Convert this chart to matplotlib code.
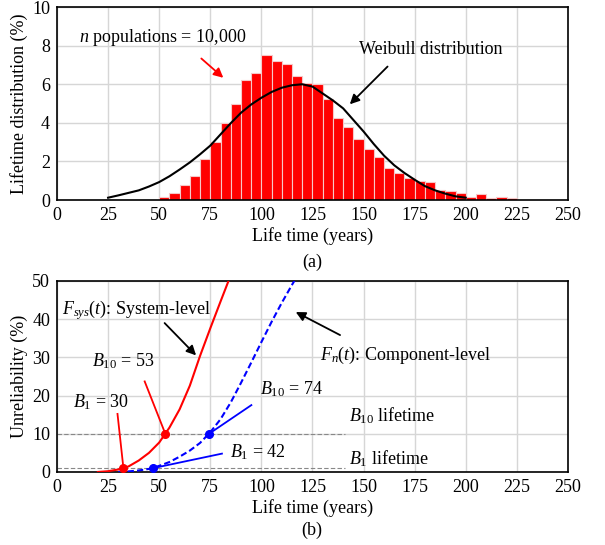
import numpy as np
import matplotlib
matplotlib.use("Agg")
import matplotlib.pyplot as plt

plt.rcParams['font.family'] = ['Liberation Serif', 'DejaVu Serif']
plt.rcParams['mathtext.fontset'] = 'custom'
plt.rcParams['mathtext.rm'] = 'Liberation Serif'
plt.rcParams['mathtext.it'] = 'Liberation Serif:italic'
plt.rcParams['font.size'] = 13

# (a) histogram, 5-year bins starting at 50 years
bin_start = [50, 55, 60, 65, 70, 75, 80, 85, 90, 95, 100, 105, 110, 115, 120,
             125, 130, 135, 140, 145, 150, 155, 160, 165, 170, 175, 180, 185,
             190, 195, 200, 205, 210, 215, 220]
hist_pct = [0.14, 0.38, 0.76, 1.24, 2.14, 3.0, 3.98, 4.98, 6.22, 6.57, 7.53,
            7.19, 7.05, 6.45, 6.04, 5.99, 5.24, 4.26, 3.78, 3.18, 2.62, 2.23,
            1.68, 1.42, 1.16, 0.98, 0.93, 0.50, 0.47, 0.38, 0.16, 0.29, 0.12,
            0.17, 0.10]

# Weibull curve
wb_t = [25, 30, 35, 40, 45, 50, 55, 60, 65, 70, 75, 80, 85, 90, 95, 100, 105,
        110, 115, 120, 125, 130, 135, 140, 145, 150, 155, 160, 165, 170, 175,
        180, 185, 190, 195, 200]
wb_pct = [0.12, 0.24, 0.37, 0.50, 0.70, 0.93, 1.23, 1.58, 1.95, 2.37, 2.82,
          3.40, 3.98, 4.52, 4.95, 5.30, 5.60, 5.82, 5.95, 6.00, 5.88, 5.52,
          5.16, 4.75, 4.15, 3.55, 2.90, 2.30, 1.80, 1.40, 1.05, 0.72, 0.50,
          0.33, 0.19, 0.12]

# (b) unreliability curves
sys_t = [20, 25, 30, 35, 40, 45, 50, 55, 60, 65, 70, 75, 80, 85]
sys_f = [0.0, 0.2, 0.65, 1.45, 3.0, 5.0, 7.7, 11.6, 16.4, 22.6, 30.4, 37.6, 44.6, 51.5]
comp_t = [30, 35, 40, 45, 50, 55, 60, 65, 70, 75, 80, 85, 90, 95, 100, 105, 110, 115, 120]
comp_f = [0.0, 0.15, 0.4, 0.8, 1.6, 2.6, 4.0, 5.6, 7.6, 10.4, 13.8, 18.2, 23.3,
          28.6, 34.0, 39.3, 44.3, 49.0, 53.5]
sys_b = [32.5, 53]
comp_b = [47, 74.4]
b_levels = [1, 10]

xticks = [0, 25, 50, 75, 100, 125, 150, 175, 200, 225, 250]

fig = plt.figure(figsize=(6.05, 5.45), dpi=100)
ax1 = fig.add_axes([0.0942, 0.633, 0.8446, 0.354])
ax2 = fig.add_axes([0.0942, 0.134, 0.8446, 0.3505])

for ax in (ax1, ax2):
    ax.set_axisbelow(True)
    ax.grid(True, color='#d6d6d6', lw=1.0)
    ax.set_xlim(0, 250)
    ax.set_xticks(xticks)
    ax.tick_params(length=0, pad=5, labelsize=13)
    for s in ax.spines.values():
        s.set_linewidth(1.2)
    ax.set_xlabel('Life time (years)', fontsize=13, labelpad=2)

# ---- (a)
ax1.bar(bin_start, hist_pct, width=5, align='edge', color='#ff0000',
        edgecolor='#f5c8c8', linewidth=0.8, zorder=2)
ax1.plot(wb_t, wb_pct, color='black', lw=1.5, zorder=3)
ax1.set_ylim(0, 10)
ax1.set_yticks([0, 2, 4, 6, 8, 10])
ax1.set_ylabel('Lifetime distribution (%)', fontsize=13, labelpad=3)
ax1.text(10.8, 8.4, r'$n$ populations = 10,000', va='center')
ax1.annotate('', xy=(82.4, 6.24), xytext=(69.6, 7.43),
             arrowprops=dict(arrowstyle='-|>', color='red', lw=1.3, mutation_scale=14))
ax1.text(148, 7.8, 'Weibull distribution', va='center')
ax1.annotate('', xy=(142.3, 4.86), xytext=(162.7, 7.02),
             arrowprops=dict(arrowstyle='-|>', color='black', lw=1.3, mutation_scale=14))

# ---- (b)
ax2.set_ylim(0, 50)
ax2.set_yticks([0, 10, 20, 30, 40, 50])
ax2.set_ylabel('Unreliability (%)', fontsize=13, labelpad=3)
for lv in b_levels:
    ax2.plot([0, 141], [lv, lv], color='#888888', lw=0.8, dashes=(4, 2), zorder=2)
ax2.plot(sys_t, sys_f, color='#ff0000', lw=1.5, zorder=3)
ax2.plot(comp_t, comp_f, color='#0000ff', lw=1.5, dashes=(3, 1.5), zorder=3)
ax2.plot(sys_b, b_levels, 'o', color='#ff0000', ms=5.5, zorder=4)
ax2.plot(comp_b, b_levels, 'o', color='#0000ff', ms=5.5, zorder=4)

ax2.plot([29.6, sys_b[0]], [15.2, 1], color='#ff0000', lw=1.3)
ax2.plot([42.9, sys_b[1]], [23.7, 10], color='#ff0000', lw=1.3)
ax2.plot([comp_b[0], 80.7], [1, 4.8], color='#0000ff', lw=1.3)
ax2.plot([comp_b[1], 95.1], [10, 17.5], color='#0000ff', lw=1.3)

ax2.text(2.5, 42.4, r'$F_{sys}(t)$: System-level', va='center')
ax2.annotate('', xy=(69, 30), xytext=(51.7, 39.5),
             arrowprops=dict(arrowstyle='-|>', color='black', lw=1.3, mutation_scale=14))
ax2.text(128.6, 30.5, r'$F_n(t)$: Component-level', va='center')
ax2.annotate('', xy=(115.6, 42.2), xytext=(139.7, 35.5),
             arrowprops=dict(arrowstyle='-|>', color='black', lw=1.3, mutation_scale=14))
ax2.text(17.2, 28.9, r'$B_{\mathit{10}}$ = 53', va='center')
ax2.text(7.9, 18.3, r'$B_{\mathit{1}}$ = 30', va='center')
ax2.text(99.5, 21.7, r'$B_{\mathit{10}}$ = 74', va='center')
ax2.text(84.7, 5.3, r'$B_{\mathit{1}}$ = 42', va='center')
ax2.text(142.9, 14.7, r'$B_{\mathit{10}}$ lifetime', va='center')
ax2.text(142.9, 3.5, r'$B_{\mathit{1}}$ lifetime', va='center')

fig.text(0.516, 0.519, '(a)', ha='center', va='center', fontsize=13)
fig.text(0.516, 0.027, '(b)', ha='center', va='center', fontsize=13)

fig.savefig('out.png', dpi=100)
